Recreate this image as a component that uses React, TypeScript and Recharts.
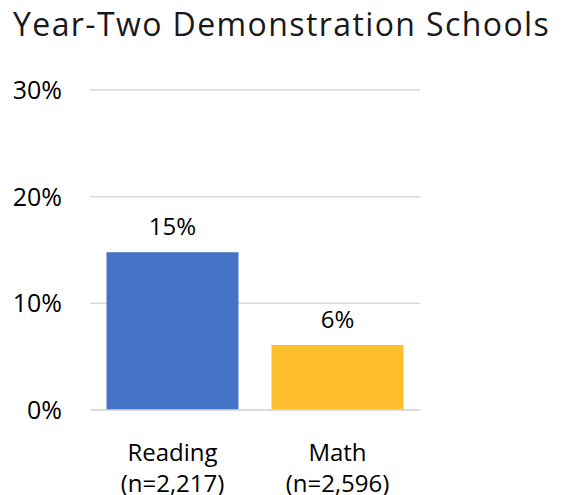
import { Bar, BarChart, CartesianGrid, Cell, LabelList, XAxis, YAxis } from "recharts";

const subjects = ["Reading", "Math"];
const sampleSizes = ["(n=2,217)", "(n=2,596)"];
const percentages = [14.8, 6.1];
const yTicks = [0, 10, 20, 30];
const barColors = ["#4472C4", "#FFBF2E"];

const chartData = subjects.map((subject, i) => ({
  subject,
  n: sampleSizes[i],
  value: percentages[i],
}));

const FONT = "'Open Sans', sans-serif";

function CategoryTick({ x, y, payload, index }: any) {
  return (
    <text
      x={x}
      y={y}
      textAnchor="middle"
      fill="#000"
      fontFamily={FONT}
      fontSize={24}
      fontWeight={500}
    >
      <tspan x={x} y={y + 43}>
        {payload.value}
      </tspan>
      <tspan x={x} y={y + 74}>
        {sampleSizes[index]}
      </tspan>
    </text>
  );
}

export default function App() {
  return (
    <div
      style={{
        position: "absolute",
        left: 0,
        top: 0,
        width: 566,
        height: 495,
        background: "#fff",
        overflow: "hidden",
      }}
    >
      <div
        style={{
          position: "absolute",
          left: 13,
          top: 2,
          fontFamily: "'Open Sans', sans-serif",
          fontSize: 32,
          letterSpacing: 1.4,
          color: "#1a1a1a",
          whiteSpace: "nowrap",
        }}
      >
        Year-Two Demonstration Schools
      </div>
      <BarChart
        width={566}
        height={495}
        data={chartData}
        margin={{ top: 90, right: 146, bottom: 0, left: 0 }}
        barCategoryGap="10%"
      >
        <CartesianGrid horizontal vertical={false} stroke="#d9d9d9" strokeWidth={1.5} />
        <XAxis
          dataKey="subject"
          height={85}
          axisLine={{ stroke: "#d9d9d9", strokeWidth: 1.5 }}
          tickLine={false}
          interval={0}
          tick={<CategoryTick />}
        />
        <YAxis
          width={90}
          domain={[0, 30]}
          ticks={yTicks}
          axisLine={false}
          tickLine={false}
          tickSize={0}
          tickMargin={28}
          tickFormatter={(v: number) => `${v}%`}
          tick={{ fill: "#000", fontSize: 25, fontFamily: FONT, fontWeight: 500 }}
        />
        <Bar dataKey="value" isAnimationActive={false}>
          {chartData.map((d, i) => (
            <Cell key={d.subject} fill={barColors[i]} />
          ))}
          <LabelList
            dataKey="value"
            position="top"
            offset={17}
            formatter={(v: any) => `${Math.round(Number(v))}%`}
            style={{ fill: "#000", fontSize: 24, fontFamily: FONT, fontWeight: 500 }}
          />
        </Bar>
      </BarChart>
    </div>
  );
}
